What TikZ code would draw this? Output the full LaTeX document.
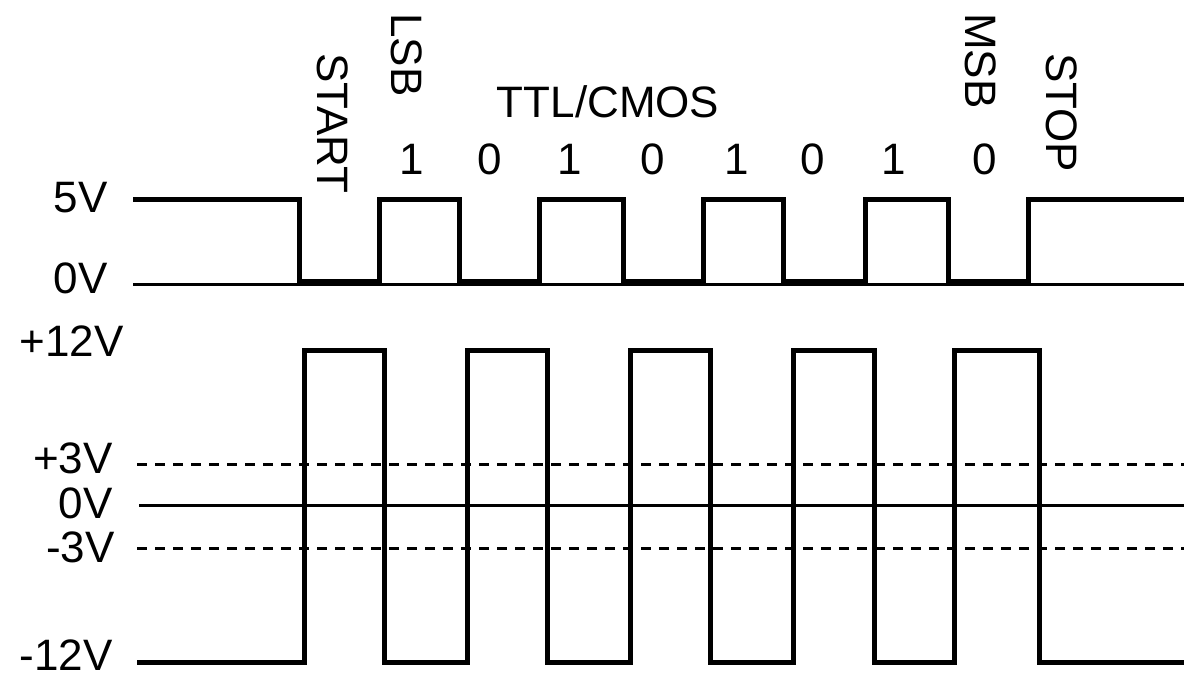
\documentclass[tikz,border=0pt]{standalone}
\usepackage{fontspec}
\setmainfont{Liberation Sans}
\begin{document}
\begin{tikzpicture}[x=0.75pt,y=-0.75pt,
  lbl/.style={inner sep=0pt, font=\fontsize{33}{40}\selectfont},
  vlbl/.style={lbl, rotate=-90, anchor=west},
  wave/.style={line width=3.75pt, line join=miter},
  baseline/.style={line width=2.25pt},
  thresh/.style={line width=2.25pt, dash pattern=on 7.5pt off 6pt}]
\useasboundingbox (0,0) rectangle (1184,678);
\clip (0,0) rectangle (1184,678);

% ---- TTL/CMOS section ----
\draw[baseline] (133,284.5) -- (1190,284.5);
\draw[wave] (133,199.5) -- (299.5,199.5) -- (299.5,281.5) -- (379,281.5) -- (379,199.5)
  -- (459.5,199.5) -- (459.5,281.5) -- (539.5,281.5) -- (539.5,199.5)
  -- (623.5,199.5) -- (623.5,281.5) -- (703,281.5) -- (703,199.5)
  -- (783.5,199.5) -- (783.5,281.5) -- (865.5,281.5) -- (865.5,199.5)
  -- (948.5,199.5) -- (948.5,281.5) -- (1028.5,281.5) -- (1028.5,199.5)
  -- (1190,199.5);

\node[lbl] (ttl) at (608,102) {TTL/CMOS};
\node[vlbl] (start) at (333,53) {START};
\node[vlbl] (lsb) at (407,13) {LSB};
\node[vlbl] (msb) at (981,13) {MSB};
\node[vlbl] (stop) at (1062,53) {STOP};

\node[lbl] (b1) at (412,159) {1};
\node[lbl] (b2) at (490,159) {0};
\node[lbl] (b3) at (570,159) {1};
\node[lbl] (b4) at (653,159) {0};
\node[lbl] (b5) at (737,159) {1};
\node[lbl] (b6) at (813,159) {0};
\node[lbl] (b7) at (894,159) {1};
\node[lbl] (b8) at (985,159) {0};

\node[lbl, anchor=east] (l5v) at (108,198) {5V};
\node[lbl, anchor=east] (l0va) at (108,278) {0V};

% ---- RS-232 section ----
\draw[thresh] (137,464) -- (1190,464);
\draw[baseline] (139,505) -- (1190,505);
\draw[thresh] (137,548) -- (1190,548);
\draw[wave] (137,662.5) -- (304.5,662.5) -- (304.5,350) -- (384.5,350) -- (384.5,662.5)
  -- (467,662.5) -- (467,350) -- (547,350) -- (547,662.5)
  -- (630,662.5) -- (630,350) -- (710.5,350) -- (710.5,662.5)
  -- (793.5,662.5) -- (793.5,350) -- (874.5,350) -- (874.5,662.5)
  -- (954.5,662.5) -- (954.5,350) -- (1039,350) -- (1039,662.5)
  -- (1190,662.5);

\node[lbl, anchor=east] (lp12) at (124,341) {+12V};
\node[lbl, anchor=east] (lp3) at (113,458) {+3V};
\node[lbl, anchor=east] (l0vb) at (113,503) {0V};
\node[lbl, anchor=east] (lm3) at (115,547) {-3V};
\node[lbl, anchor=east] (lm12) at (113,655) {-12V};
\end{tikzpicture}
\end{document}
